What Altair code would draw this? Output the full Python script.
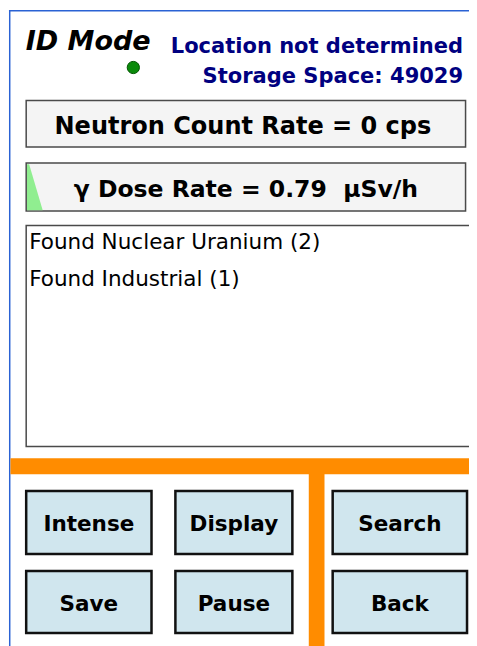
import altair as alt
import pandas as pd

# ---------------- content ----------------
title_text = "ID Mode"
status_lines = ["Location not determined", "Storage Space: 49029"]
neutron_text = "Neutron Count Rate = 0 cps"
gamma_text = "γ Dose Rate = 0.79\u00a0 μSv/h"
found_items = ["Found Nuclear Uranium (2)", "Found Industrial (1)"]
button_labels = ["Intense", "Display", "Search", "Save", "Pause", "Back"]

# ---------------- layout (reference pixel coordinates) ----------------
PW, PH = 461, 638          # drawing area of the page
XS = alt.Scale(domain=[8, 477], nice=False, zero=False)
YS = alt.Scale(domain=[8, 8 + PH], nice=False, zero=False, reverse=True)
FONT = "DejaVu Sans"


def enc_rect():
    return dict(x=alt.X("x:Q", scale=XS, axis=None), x2="x2:Q",
                y=alt.Y("y:Q", scale=YS, axis=None), y2="y2:Q")


def enc_pt():
    return dict(x=alt.X("x:Q", scale=XS, axis=None),
                y=alt.Y("y:Q", scale=YS, axis=None))


layers = []

# blue frame
frame = pd.DataFrame({"x": [9, 9], "x2": [10.5, 477], "y": [10, 10], "y2": [646, 11.5]})
layers.append(alt.Chart(frame).mark_rect(color="#2a62d4").encode(**enc_rect()))

# readout boxes
boxes = pd.DataFrame({"x": [26.5, 26.5], "x2": [473.5, 473.5],
                      "y": [100.5, 163], "y2": [147, 211]})
layers.append(alt.Chart(boxes).mark_rect(fill="#f4f4f4", stroke="#4a4a4a",
                                         strokeWidth=1.5).encode(**enc_rect()))

# gamma gauge wedge
wedge = pd.DataFrame({"x": [27.3, 29.5, 43.3], "y": [164.3, 164.3, 210.2],
                      "y2": [210.2, 210.2, 210.2]})
layers.append(alt.Chart(wedge).mark_area(color="#90ee90", opacity=1).encode(
    x=alt.X("x:Q", scale=XS, axis=None), y=alt.Y("y:Q", scale=YS, axis=None), y2="y2:Q"))

# list box
listbox = pd.DataFrame({"x": [26.5], "x2": [490], "y": [225.5], "y2": [446.5]})
layers.append(alt.Chart(listbox).mark_rect(fill="white", stroke="#4a4a4a",
                                           strokeWidth=1.5).encode(**enc_rect()))

# orange bars
bars = pd.DataFrame({"x": [10.5, 314], "x2": [477, 330], "y": [458.3, 474], "y2": [474.3, 660]})
layers.append(alt.Chart(bars).mark_rect(color="#ff8c00").encode(**enc_rect()))

# buttons
cols = [(26.5, 154), (178.3, 297.3), (338.3, 475)]
rows = [(491, 554), (571, 633)]
baselines = [531, 610.5]
bx = []
for i, lab in enumerate(button_labels):
    r, c = divmod(i, 3)
    bx.append({"x": cols[c][0], "x2": cols[c][1], "y": rows[r][0], "y2": rows[r][1],
               "cx": (cols[c][0] + cols[c][1]) / 2, "cy": baselines[r], "t": lab})
bdf = pd.DataFrame(bx)
layers.append(alt.Chart(bdf).mark_rect(fill="#d0e6ee", stroke="#111111",
                                       strokeWidth=2.5).encode(**enc_rect()))
layers.append(alt.Chart(bdf).mark_text(font=FONT, fontSize=21.5, fontWeight="bold",
                                       color="black", baseline="alphabetic").encode(
    x=alt.X("cx:Q", scale=XS, axis=None), y=alt.Y("cy:Q", scale=YS, axis=None), text="t:N"))

# status dot
dot = pd.DataFrame({"x": [135.5], "y": [67.5]})
layers.append(alt.Chart(dot).mark_point(filled=True, shape="circle", size=150,
                                        color="#0a8a0a", stroke="#005500",
                                        strokeWidth=1, opacity=1).encode(**enc_pt()))

# title
tdf = pd.DataFrame({"x": [26], "y": [50], "t": [title_text]})
layers.append(alt.Chart(tdf).mark_text(font=FONT, fontSize=27, fontWeight="bold",
                                       fontStyle="italic", color="black", align="left",
                                       baseline="alphabetic").encode(**enc_pt(), text="t:N"))

# status lines
sdf = pd.DataFrame({"x": [471, 471], "y": [53, 83], "t": status_lines})
layers.append(alt.Chart(sdf).mark_text(font=FONT, fontSize=21, fontWeight="bold",
                                       color="#000080", align="right",
                                       baseline="alphabetic").encode(**enc_pt(), text="t:N"))

# readout texts
rdf = pd.DataFrame({"x": [247], "y": [134], "t": [neutron_text]})
layers.append(alt.Chart(rdf).mark_text(font=FONT, fontSize=24, fontWeight="bold",
                                       color="black", align="center",
                                       baseline="alphabetic").encode(**enc_pt(), text="t:N"))
gdf = pd.DataFrame({"x": [250], "y": [196.5], "t": [gamma_text]})
layers.append(alt.Chart(gdf).mark_text(font=FONT, fontSize=23.5, fontWeight="bold",
                                       color="black", align="center",
                                       baseline="alphabetic").encode(**enc_pt(), text="t:N"))

# found items
fdf = pd.DataFrame({"x": [29.5, 29.5], "y": [248.5, 285.5], "t": found_items})
layers.append(alt.Chart(fdf).mark_text(font=FONT, fontSize=21.5, color="black",
                                       align="left", baseline="alphabetic").encode(
    **enc_pt(), text="t:N"))

chart = alt.layer(*layers).properties(
    width=PW, height=PH, padding=0,
    autosize=alt.AutoSizeParams(type="none"),
    background="white",
).configure_view(stroke=None)

chart.save("out.html", embed_options={"renderer": "svg", "actions": False})
